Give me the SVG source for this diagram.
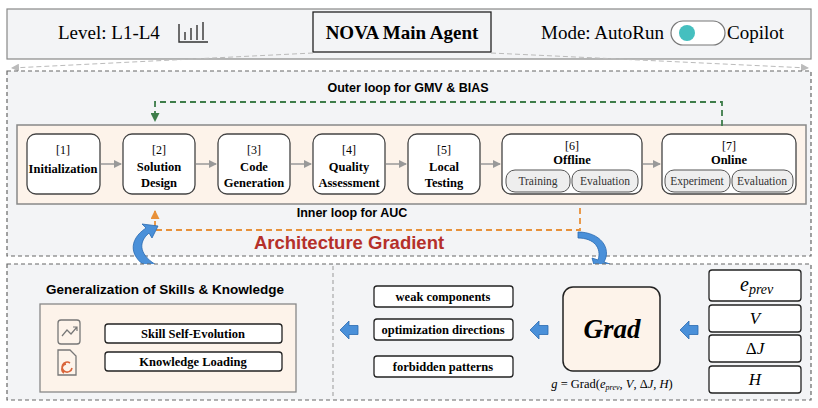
<svg xmlns="http://www.w3.org/2000/svg" width="818" height="408" viewBox="0 0 818 408">
<defs>
<style>
.serif{font-family:"Liberation Serif",serif}
.sans{font-family:"Liberation Sans",Arial,sans-serif}
.node{fill:#fff;stroke:#444;stroke-width:1.3}
.sub{fill:#eee;stroke:#555;stroke-width:1}
.lbl{font-family:"Liberation Serif",serif;font-size:12.5px;font-weight:bold;text-anchor:middle}
.num{font-family:"Liberation Serif",serif;font-size:12px;text-anchor:middle}
.subt{font-family:"Liberation Serif",serif;font-size:11.5px;text-anchor:middle;fill:#333}
.box{fill:#fff;stroke:#222;stroke-width:1.3}
.flow{stroke:#999;stroke-width:1.5;fill:none}
</style>
<marker id="ga" markerWidth="8" markerHeight="8" refX="7" refY="4" orient="auto" markerUnits="userSpaceOnUse"><path d="M0,0L8,4L0,8z" fill="#999"/></marker>
<marker id="gr" markerWidth="9" markerHeight="9" refX="8" refY="4.5" orient="auto" markerUnits="userSpaceOnUse"><path d="M0,0L9,4.5L0,9z" fill="#3e7d4a"/></marker>
<marker id="or" markerWidth="9" markerHeight="9" refX="8" refY="4.5" orient="auto" markerUnits="userSpaceOnUse"><path d="M0,0L9,4.5L0,9z" fill="#e8913a"/></marker>
<marker id="la" markerWidth="8" markerHeight="8" refX="7" refY="4" orient="auto" markerUnits="userSpaceOnUse"><path d="M0,0L8,4L0,8z" fill="#bbb"/></marker>
<g id="blue"><path d="M-9,0L0,-9V-4.5H9V4.5H0V9z" fill="#4a90d9" stroke="#2a6ab0" stroke-width="0.8"/></g>
</defs>
<rect width="818" height="408" fill="#fff"/>
<g id="topbar">
<rect x="7" y="9" width="804" height="50" fill="#f3f4f6" stroke="#888" stroke-width="1.2"/>
<text x="58" y="39" class="serif" font-size="19">Level: L1-L4</text>
<path d="M179,24V42H208M185,40V32M191,40V28M197,40V25M203,40V22" stroke="#333" stroke-width="1.4" fill="none"/>
<rect x="313" y="12" width="178" height="40" fill="#f3f4f6" stroke="#222" stroke-width="1.3"/>
<text x="402" y="39" class="serif" font-size="19" font-weight="bold" text-anchor="middle">NOVA Main Agent</text>
<text x="541" y="39" class="serif" font-size="19">Mode: AutoRun</text>
<rect x="671" y="21" width="54" height="24" rx="12" fill="#fff" stroke="#777" stroke-width="1.2"/>
<circle cx="687" cy="33" r="8" fill="#45bfbf"/>
<text x="727" y="39" class="serif" font-size="19">Copilot</text>
</g>
<g id="connectors">
<path d="M313,53L12,68" stroke="#bbb" stroke-dasharray="5,3" fill="none" marker-end="url(#la)"/>
<path d="M491,53L808,68" stroke="#bbb" stroke-dasharray="5,3" fill="none" marker-end="url(#la)"/>
</g>
<rect x="7" y="71" width="804" height="185" fill="#f3f4f6" stroke="#666" stroke-dasharray="4,3" stroke-width="1.2"/>
<text x="408" y="92" class="sans" font-size="12.5" font-weight="bold" text-anchor="middle">Outer loop for GMV &amp; BIAS</text>
<rect x="17" y="125" width="789" height="79" fill="#fdf3ea" stroke="#888" stroke-width="1.5"/>
<g id="connectors2">
<path d="M722,126V102H155V121" stroke="#3e7d4a" stroke-width="1.8" stroke-dasharray="6,4" fill="none" marker-end="url(#gr)"/>
<path d="M580,208V230H155V211" stroke="#e8913a" stroke-width="1.8" stroke-dasharray="6,4" fill="none" marker-end="url(#or)"/>
<path d="M101,164H121" class="flow" marker-end="url(#ga)"/>
<path d="M196,164H216" class="flow" marker-end="url(#ga)"/>
<path d="M291,164H311" class="flow" marker-end="url(#ga)"/>
<path d="M386,164H406" class="flow" marker-end="url(#ga)"/>
<path d="M481,164H500" class="flow" marker-end="url(#ga)"/>
<path d="M643,164H660" class="flow" marker-end="url(#ga)"/>
</g>
<g id="n1"><rect x="27" y="134" width="73" height="60" rx="9" class="node"/><text x="63" y="154" class="num">[1]</text><text x="63" y="173" class="lbl">Initialization</text></g>
<g id="n2"><rect x="123" y="134" width="72" height="60" rx="9" class="node"/><text x="159" y="154" class="num">[2]</text><text x="159" y="171" class="lbl">Solution</text><text x="159" y="187" class="lbl">Design</text></g>
<g id="n3"><rect x="218" y="134" width="72" height="60" rx="9" class="node"/><text x="254" y="154" class="num">[3]</text><text x="254" y="171" class="lbl">Code</text><text x="254" y="187" class="lbl">Generation</text></g>
<g id="n4"><rect x="313" y="134" width="72" height="60" rx="9" class="node"/><text x="349" y="154" class="num">[4]</text><text x="349" y="171" class="lbl">Quality</text><text x="349" y="187" class="lbl" font-size="12">Assessment</text></g>
<g id="n5"><rect x="408" y="134" width="72" height="60" rx="9" class="node"/><text x="444" y="154" class="num">[5]</text><text x="444" y="171" class="lbl">Local</text><text x="444" y="187" class="lbl">Testing</text></g>
<g id="n6"><rect x="502" y="134" width="140" height="60" rx="9" class="node"/><text x="572" y="150" class="num">[6]</text><text x="572" y="164" class="lbl">Offline</text>
<rect x="506" y="170" width="64" height="22" rx="9" class="sub"/><text x="538" y="185" class="subt">Training</text>
<rect x="572" y="170" width="66" height="22" rx="9" class="sub"/><text x="605" y="185" class="subt">Evaluation</text></g>
<g id="n7"><rect x="662" y="134" width="134" height="60" rx="9" class="node"/><text x="729" y="150" class="num">[7]</text><text x="729" y="164" class="lbl">Online</text>
<rect x="665" y="170" width="65" height="22" rx="9" class="sub"/><text x="697" y="185" class="subt">Experiment</text>
<rect x="732" y="170" width="61" height="22" rx="9" class="sub"/><text x="762" y="185" class="subt">Evaluation</text></g>
<text x="352" y="217" class="sans" font-size="12.5" font-weight="bold" text-anchor="middle">Inner loop for AUC</text>
<text x="349" y="249" class="sans" font-size="18.5" font-weight="bold" fill="#b5302a" text-anchor="middle">Architecture Gradient</text>
<path d="M152,270C128,258 128,240 146,228L142,224L158,226L152,238L149,233C137,243 140,256 158,266z" fill="#4a90d9" stroke="#2a6ab0" stroke-width="0.8"/>
<path d="M578,232C600,232 612,248 604,262L610,264L596,272L592,258L598,260C602,248 594,238 578,238z" fill="#4a90d9" stroke="#2a6ab0" stroke-width="0.8"/>
<rect x="7" y="264" width="804" height="136" fill="#f3f4f6" stroke="#666" stroke-dasharray="4,3" stroke-width="1.2"/>
<path d="M333,266V398" stroke="#999" stroke-dasharray="4,3"/>
<text x="165" y="294" class="sans" font-size="13.5" font-weight="bold" text-anchor="middle">Generalization of Skills &amp; Knowledge</text>
<rect x="40" y="304" width="256" height="88" fill="#fdf3ea" stroke="#888" stroke-width="1.3"/>
<g id="icons">
<rect x="58" y="320" width="22" height="24" rx="3" fill="none" stroke="#777" stroke-width="1.3"/>
<path d="M62,336L67,330L71,334L77,327M73,327H77V331" stroke="#777" stroke-width="1.2" fill="none"/>
<path d="M58,350H70L76,356V375H58z" fill="none" stroke="#777" stroke-width="1.3"/>
<path d="M72,368A5,5 0 1 1 70,363M64,373A5,5 0 0 1 66,364" stroke="#d9643a" stroke-width="1.6" fill="none"/>
</g>
<g id="skill"><rect x="105" y="324" width="177" height="19" rx="3" class="box"/><text x="193" y="338" class="lbl" font-size="13">Skill Self-Evolution</text></g>
<g id="know"><rect x="105" y="352" width="177" height="19" rx="3" class="box"/><text x="193" y="366" class="lbl" font-size="13">Knowledge Loading</text></g>
<g id="weak"><rect x="374" y="286" width="139" height="21" rx="3" class="box"/><text x="443" y="301" class="lbl" font-size="11.5">weak components</text></g>
<g id="opt"><rect x="374" y="319" width="139" height="21" rx="3" class="box"/><text x="443" y="334" class="lbl" font-size="11.5">optimization directions</text></g>
<g id="forb"><rect x="374" y="356" width="139" height="21" rx="3" class="box"/><text x="443" y="371" class="lbl" font-size="11.5">forbidden patterns</text></g>
<use href="#blue" x="349" y="330"/>
<use href="#blue" x="539" y="330"/>
<use href="#blue" x="689" y="330"/>
<g id="grad"><rect x="563" y="287" width="97" height="84" rx="10" fill="#fdf3ea" stroke="#222" stroke-width="1.5"/>
<text x="612" y="338" class="serif" font-size="27" font-weight="bold" font-style="italic" text-anchor="middle">Grad</text></g>
<text x="612" y="388" class="serif" font-size="12.5" text-anchor="middle"><tspan font-style="italic">g</tspan> = Grad(<tspan font-style="italic">e</tspan><tspan font-style="italic" font-size="8" dy="2">prev</tspan><tspan dy="-2">, </tspan><tspan font-style="italic">V</tspan>, Δ<tspan font-style="italic">J</tspan>, <tspan font-style="italic">H</tspan>)</text>
<g id="in1"><rect x="709" y="270" width="92" height="31" rx="3" class="box"/><text x="740" y="291" class="serif" font-size="20" font-style="italic">e<tspan font-size="14" dy="3">prev</tspan></text></g>
<g id="in2"><rect x="709" y="305" width="92" height="27" rx="3" class="box"/><text x="755" y="324" class="serif" font-size="17" font-style="italic" text-anchor="middle">V</text></g>
<g id="in3"><rect x="709" y="335" width="92" height="27" rx="3" class="box"/><text x="755" y="354" class="serif" font-size="17" text-anchor="middle">Δ<tspan font-style="italic">J</tspan></text></g>
<g id="in4"><rect x="709" y="366" width="92" height="27" rx="3" class="box"/><text x="755" y="385" class="serif" font-size="17" font-style="italic" text-anchor="middle">H</text></g>
</svg>
